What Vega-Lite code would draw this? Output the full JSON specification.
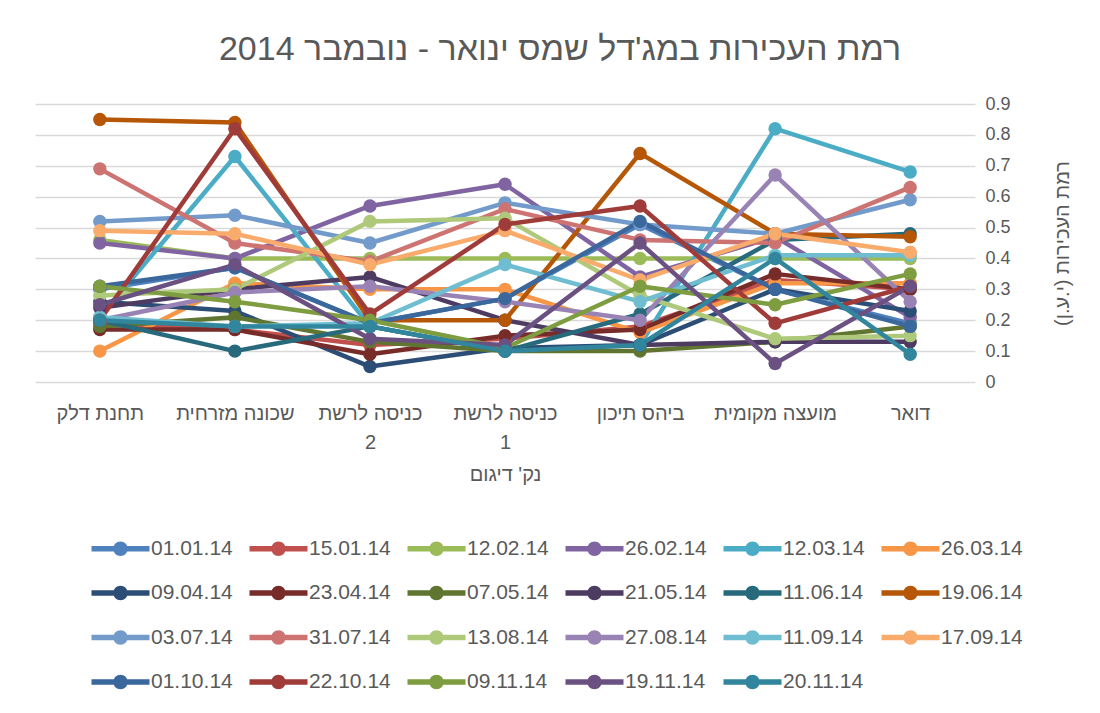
{
  "$schema": "https://vega.github.io/schema/vega-lite/v6.json",
  "autosize": {"type": "none"},
  "width": 940,
  "height": 278,
  "padding": {"left": 35, "top": 104, "right": 125, "bottom": 331},
  "background": "white",
  "config": {
    "font": "Liberation Sans",
    "view": {"stroke": null}
  },
  "title": {
    "text": "רמת העכירות במג'דל שמס ינואר - נובמבר 2014",
    "fontSize": 34,
    "fontWeight": "normal",
    "color": "#595959",
    "font": "Liberation Sans",
    "anchor": "middle",
    "dx": 55,
    "offset": 28
  },
  "data": {
    "values": [
      {"date": "01.01.14", "site": "תחנת דלק", "value": 0.30},
      {"date": "01.01.14", "site": "שכונה מזרחית", "value": 0.37},
      {"date": "01.01.14", "site": "כניסה לרשת 2", "value": 0.19},
      {"date": "01.01.14", "site": "כניסה לרשת 1", "value": 0.27},
      {"date": "01.01.14", "site": "ביהס תיכון", "value": 0.51},
      {"date": "01.01.14", "site": "מועצה מקומית", "value": 0.30},
      {"date": "01.01.14", "site": "דואר", "value": 0.19},
      {"date": "15.01.14", "site": "תחנת דלק", "value": 0.19},
      {"date": "15.01.14", "site": "שכונה מזרחית", "value": 0.17},
      {"date": "15.01.14", "site": "כניסה לרשת 2", "value": 0.12},
      {"date": "15.01.14", "site": "כניסה לרשת 1", "value": 0.14},
      {"date": "15.01.14", "site": "ביהס תיכון", "value": 0.18},
      {"date": "15.01.14", "site": "מועצה מקומית", "value": 0.33},
      {"date": "15.01.14", "site": "דואר", "value": 0.30},
      {"date": "12.02.14", "site": "תחנת דלק", "value": 0.46},
      {"date": "12.02.14", "site": "שכונה מזרחית", "value": 0.40},
      {"date": "12.02.14", "site": "כניסה לרשת 2", "value": 0.40},
      {"date": "12.02.14", "site": "כניסה לרשת 1", "value": 0.40},
      {"date": "12.02.14", "site": "ביהס תיכון", "value": 0.40},
      {"date": "12.02.14", "site": "מועצה מקומית", "value": 0.40},
      {"date": "12.02.14", "site": "דואר", "value": 0.40},
      {"date": "26.02.14", "site": "תחנת דלק", "value": 0.45},
      {"date": "26.02.14", "site": "שכונה מזרחית", "value": 0.40},
      {"date": "26.02.14", "site": "כניסה לרשת 2", "value": 0.57},
      {"date": "26.02.14", "site": "כניסה לרשת 1", "value": 0.64},
      {"date": "26.02.14", "site": "ביהס תיכון", "value": 0.34},
      {"date": "26.02.14", "site": "מועצה מקומית", "value": 0.47},
      {"date": "26.02.14", "site": "דואר", "value": 0.21},
      {"date": "12.03.14", "site": "תחנת דלק", "value": 0.21},
      {"date": "12.03.14", "site": "שכונה מזרחית", "value": 0.73},
      {"date": "12.03.14", "site": "כניסה לרשת 2", "value": 0.18},
      {"date": "12.03.14", "site": "כניסה לרשת 1", "value": 0.10},
      {"date": "12.03.14", "site": "ביהס תיכון", "value": 0.12},
      {"date": "12.03.14", "site": "מועצה מקומית", "value": 0.82},
      {"date": "12.03.14", "site": "דואר", "value": 0.68},
      {"date": "26.03.14", "site": "תחנת דלק", "value": 0.10},
      {"date": "26.03.14", "site": "שכונה מזרחית", "value": 0.32},
      {"date": "26.03.14", "site": "כניסה לרשת 2", "value": 0.30},
      {"date": "26.03.14", "site": "כניסה לרשת 1", "value": 0.30},
      {"date": "26.03.14", "site": "ביהס תיכון", "value": 0.16},
      {"date": "26.03.14", "site": "מועצה מקומית", "value": 0.32},
      {"date": "26.03.14", "site": "דואר", "value": 0.32},
      {"date": "09.04.14", "site": "תחנת דלק", "value": 0.26},
      {"date": "09.04.14", "site": "שכונה מזרחית", "value": 0.23},
      {"date": "09.04.14", "site": "כניסה לרשת 2", "value": 0.05},
      {"date": "09.04.14", "site": "כניסה לרשת 1", "value": 0.11},
      {"date": "09.04.14", "site": "ביהס תיכון", "value": 0.12},
      {"date": "09.04.14", "site": "מועצה מקומית", "value": 0.30},
      {"date": "09.04.14", "site": "דואר", "value": 0.23},
      {"date": "23.04.14", "site": "תחנת דלק", "value": 0.17},
      {"date": "23.04.14", "site": "שכונה מזרחית", "value": 0.17},
      {"date": "23.04.14", "site": "כניסה לרשת 2", "value": 0.09},
      {"date": "23.04.14", "site": "כניסה לרשת 1", "value": 0.15},
      {"date": "23.04.14", "site": "ביהס תיכון", "value": 0.17},
      {"date": "23.04.14", "site": "מועצה מקומית", "value": 0.35},
      {"date": "23.04.14", "site": "דואר", "value": 0.30},
      {"date": "07.05.14", "site": "תחנת דלק", "value": 0.18},
      {"date": "07.05.14", "site": "שכונה מזרחית", "value": 0.21},
      {"date": "07.05.14", "site": "כניסה לרשת 2", "value": 0.13},
      {"date": "07.05.14", "site": "כניסה לרשת 1", "value": 0.10},
      {"date": "07.05.14", "site": "ביהס תיכון", "value": 0.10},
      {"date": "07.05.14", "site": "מועצה מקומית", "value": 0.13},
      {"date": "07.05.14", "site": "דואר", "value": 0.18},
      {"date": "21.05.14", "site": "תחנת דלק", "value": 0.24},
      {"date": "21.05.14", "site": "שכונה מזרחית", "value": 0.30},
      {"date": "21.05.14", "site": "כניסה לרשת 2", "value": 0.34},
      {"date": "21.05.14", "site": "כניסה לרשת 1", "value": 0.20},
      {"date": "21.05.14", "site": "ביהס תיכון", "value": 0.12},
      {"date": "21.05.14", "site": "מועצה מקומית", "value": 0.13},
      {"date": "21.05.14", "site": "דואר", "value": 0.13},
      {"date": "11.06.14", "site": "תחנת דלק", "value": 0.20},
      {"date": "11.06.14", "site": "שכונה מזרחית", "value": 0.10},
      {"date": "11.06.14", "site": "כניסה לרשת 2", "value": 0.18},
      {"date": "11.06.14", "site": "כניסה לרשת 1", "value": 0.10},
      {"date": "11.06.14", "site": "ביהס תיכון", "value": 0.22},
      {"date": "11.06.14", "site": "מועצה מקומית", "value": 0.46},
      {"date": "11.06.14", "site": "דואר", "value": 0.48},
      {"date": "19.06.14", "site": "תחנת דלק", "value": 0.85},
      {"date": "19.06.14", "site": "שכונה מזרחית", "value": 0.84},
      {"date": "19.06.14", "site": "כניסה לרשת 2", "value": 0.20},
      {"date": "19.06.14", "site": "כניסה לרשת 1", "value": 0.20},
      {"date": "19.06.14", "site": "ביהס תיכון", "value": 0.74},
      {"date": "19.06.14", "site": "מועצה מקומית", "value": 0.48},
      {"date": "19.06.14", "site": "דואר", "value": 0.47},
      {"date": "03.07.14", "site": "תחנת דלק", "value": 0.52},
      {"date": "03.07.14", "site": "שכונה מזרחית", "value": 0.54},
      {"date": "03.07.14", "site": "כניסה לרשת 2", "value": 0.45},
      {"date": "03.07.14", "site": "כניסה לרשת 1", "value": 0.58},
      {"date": "03.07.14", "site": "ביהס תיכון", "value": 0.51},
      {"date": "03.07.14", "site": "מועצה מקומית", "value": 0.48},
      {"date": "03.07.14", "site": "דואר", "value": 0.59},
      {"date": "31.07.14", "site": "תחנת דלק", "value": 0.69},
      {"date": "31.07.14", "site": "שכונה מזרחית", "value": 0.45},
      {"date": "31.07.14", "site": "כניסה לרשת 2", "value": 0.39},
      {"date": "31.07.14", "site": "כניסה לרשת 1", "value": 0.56},
      {"date": "31.07.14", "site": "ביהס תיכון", "value": 0.46},
      {"date": "31.07.14", "site": "מועצה מקומית", "value": 0.45},
      {"date": "31.07.14", "site": "דואר", "value": 0.63},
      {"date": "13.08.14", "site": "תחנת דלק", "value": 0.28},
      {"date": "13.08.14", "site": "שכונה מזרחית", "value": 0.30},
      {"date": "13.08.14", "site": "כניסה לרשת 2", "value": 0.52},
      {"date": "13.08.14", "site": "כניסה לרשת 1", "value": 0.53},
      {"date": "13.08.14", "site": "ביהס תיכון", "value": 0.28},
      {"date": "13.08.14", "site": "מועצה מקומית", "value": 0.14},
      {"date": "13.08.14", "site": "דואר", "value": 0.15},
      {"date": "27.08.14", "site": "תחנת דלק", "value": 0.20},
      {"date": "27.08.14", "site": "שכונה מזרחית", "value": 0.29},
      {"date": "27.08.14", "site": "כניסה לרשת 2", "value": 0.31},
      {"date": "27.08.14", "site": "כניסה לרשת 1", "value": 0.26},
      {"date": "27.08.14", "site": "ביהס תיכון", "value": 0.20},
      {"date": "27.08.14", "site": "מועצה מקומית", "value": 0.67},
      {"date": "27.08.14", "site": "דואר", "value": 0.26},
      {"date": "11.09.14", "site": "תחנת דלק", "value": 0.21},
      {"date": "11.09.14", "site": "שכונה מזרחית", "value": 0.18},
      {"date": "11.09.14", "site": "כניסה לרשת 2", "value": 0.19},
      {"date": "11.09.14", "site": "כניסה לרשת 1", "value": 0.38},
      {"date": "11.09.14", "site": "ביהס תיכון", "value": 0.26},
      {"date": "11.09.14", "site": "מועצה מקומית", "value": 0.41},
      {"date": "11.09.14", "site": "דואר", "value": 0.41},
      {"date": "17.09.14", "site": "תחנת דלק", "value": 0.49},
      {"date": "17.09.14", "site": "שכונה מזרחית", "value": 0.48},
      {"date": "17.09.14", "site": "כניסה לרשת 2", "value": 0.38},
      {"date": "17.09.14", "site": "כניסה לרשת 1", "value": 0.49},
      {"date": "17.09.14", "site": "ביהס תיכון", "value": 0.33},
      {"date": "17.09.14", "site": "מועצה מקומית", "value": 0.48},
      {"date": "17.09.14", "site": "דואר", "value": 0.42},
      {"date": "01.10.14", "site": "תחנת דלק", "value": 0.31},
      {"date": "01.10.14", "site": "שכונה מזרחית", "value": 0.37},
      {"date": "01.10.14", "site": "כניסה לרשת 2", "value": 0.19},
      {"date": "01.10.14", "site": "כניסה לרשת 1", "value": 0.27},
      {"date": "01.10.14", "site": "ביהס תיכון", "value": 0.52},
      {"date": "01.10.14", "site": "מועצה מקומית", "value": 0.30},
      {"date": "01.10.14", "site": "דואר", "value": 0.18},
      {"date": "22.10.14", "site": "תחנת דלק", "value": 0.20},
      {"date": "22.10.14", "site": "שכונה מזרחית", "value": 0.82},
      {"date": "22.10.14", "site": "כניסה לרשת 2", "value": 0.22},
      {"date": "22.10.14", "site": "כניסה לרשת 1", "value": 0.51},
      {"date": "22.10.14", "site": "ביהס תיכון", "value": 0.57},
      {"date": "22.10.14", "site": "מועצה מקומית", "value": 0.19},
      {"date": "22.10.14", "site": "דואר", "value": 0.31},
      {"date": "09.11.14", "site": "תחנת דלק", "value": 0.31},
      {"date": "09.11.14", "site": "שכונה מזרחית", "value": 0.26},
      {"date": "09.11.14", "site": "כניסה לרשת 2", "value": 0.20},
      {"date": "09.11.14", "site": "כניסה לרשת 1", "value": 0.11},
      {"date": "09.11.14", "site": "ביהס תיכון", "value": 0.31},
      {"date": "09.11.14", "site": "מועצה מקומית", "value": 0.25},
      {"date": "09.11.14", "site": "דואר", "value": 0.35},
      {"date": "19.11.14", "site": "תחנת דלק", "value": 0.25},
      {"date": "19.11.14", "site": "שכונה מזרחית", "value": 0.38},
      {"date": "19.11.14", "site": "כניסה לרשת 2", "value": 0.14},
      {"date": "19.11.14", "site": "כניסה לרשת 1", "value": 0.12},
      {"date": "19.11.14", "site": "ביהס תיכון", "value": 0.45},
      {"date": "19.11.14", "site": "מועצה מקומית", "value": 0.06},
      {"date": "19.11.14", "site": "דואר", "value": 0.31},
      {"date": "20.11.14", "site": "תחנת דלק", "value": 0.20},
      {"date": "20.11.14", "site": "שכונה מזרחית", "value": 0.18},
      {"date": "20.11.14", "site": "כניסה לרשת 2", "value": 0.18},
      {"date": "20.11.14", "site": "כניסה לרשת 1", "value": 0.10},
      {"date": "20.11.14", "site": "ביהס תיכון", "value": 0.12},
      {"date": "20.11.14", "site": "מועצה מקומית", "value": 0.40},
      {"date": "20.11.14", "site": "דואר", "value": 0.09}
    ]
  },
  "encoding": {
    "x": {
      "field": "site",
      "type": "nominal",
      "sort": ["תחנת דלק", "שכונה מזרחית", "כניסה לרשת 2", "כניסה לרשת 1", "ביהס תיכון", "מועצה מקומית", "דואר"],
      "scale": {"type": "point", "padding": 0.48},
      "axis": {
        "title": "נק' דיגום",
        "titleFontSize": 20,
        "titleFontWeight": "normal",
        "titleColor": "#595959",
        "titlePadding": 12,
        "labelAngle": 0,
        "labelFontSize": 20,
        "labelColor": "#595959",
        "labelPadding": 21,
        "labelLineHeight": 29,
        "labelExpr": "datum.label == 'כניסה לרשת 2' ? ['כניסה לרשת', '2'] : datum.label == 'כניסה לרשת 1' ? ['כניסה לרשת', '1'] : datum.label",
        "domain": false,
        "ticks": false,
        "grid": false
      }
    },
    "y": {
      "field": "value",
      "type": "quantitative",
      "scale": {"domain": [0, 0.9], "nice": false, "zero": true},
      "axis": {
        "orient": "right",
        "values": [0, 0.1, 0.2, 0.3, 0.4, 0.5, 0.6, 0.7, 0.8, 0.9],
        "format": ".1~f",
        "title": "רמת העכירות (י.ע.ן)",
        "titleAngle": -90,
        "titleFontSize": 20,
        "titleFontWeight": "normal",
        "titleColor": "#595959",
        "titlePadding": 62,
        "labelFontSize": 18,
        "labelColor": "#595959",
        "labelPadding": 10,
        "domain": false,
        "ticks": false,
        "grid": true,
        "gridColor": "#d9d9d9",
        "gridWidth": 1.5
      }
    },
    "color": {
      "field": "date",
      "type": "nominal",
      "scale": {
        "domain": ["01.01.14", "15.01.14", "12.02.14", "26.02.14", "12.03.14", "26.03.14", "09.04.14", "23.04.14", "07.05.14", "21.05.14", "11.06.14", "19.06.14", "03.07.14", "31.07.14", "13.08.14", "27.08.14", "11.09.14", "17.09.14", "01.10.14", "22.10.14", "09.11.14", "19.11.14", "20.11.14"],
        "range": ["#4F81BD", "#C0504D", "#9BBB59", "#8064A2", "#4BACC6", "#F79646", "#2C4D75", "#772C2A", "#5F7530", "#4D3B62", "#276A7C", "#B65708", "#729ACA", "#CD7371", "#AFC97A", "#9983B5", "#6FBDD1", "#F9AB6B", "#3A679C", "#9F3B38", "#7E9C40", "#6A5182", "#31859C"]
      },
      "legend": {
        "orient": "none",
        "direction": "horizontal",
        "legendX": 71,
        "legendY": 430,
        "columns": 6,
        "title": null,
        "padding": 0,
        "symbolType": "M-2,-0.19L2,-0.19L2,0.19L-2,0.19Z M0.5,0A0.5,0.5,0,1,1,-0.5,0A0.5,0.5,0,1,1,0.5,0Z",
        "symbolSize": 841,
        "symbolStrokeWidth": 0,
        "labelFontSize": 21,
        "labelColor": "#595959",
        "labelOffset": 16,
        "columnPadding": 16,
        "rowPadding": 19.5,
        "encode": {
          "symbols": {
            "update": {
              "fill": {"scale": "color", "field": "value"},
              "strokeWidth": {"value": 0},
              "opacity": {"value": 1}
            }
          }
        }
      }
    }
  },
  "layer": [
    {
      "mark": {"type": "line", "strokeWidth": 4.5, "strokeJoin": "round", "strokeCap": "round"}
    },
    {
      "mark": {"type": "point", "shape": "circle", "filled": true, "opacity": 1, "size": 180}
    }
  ]
}
